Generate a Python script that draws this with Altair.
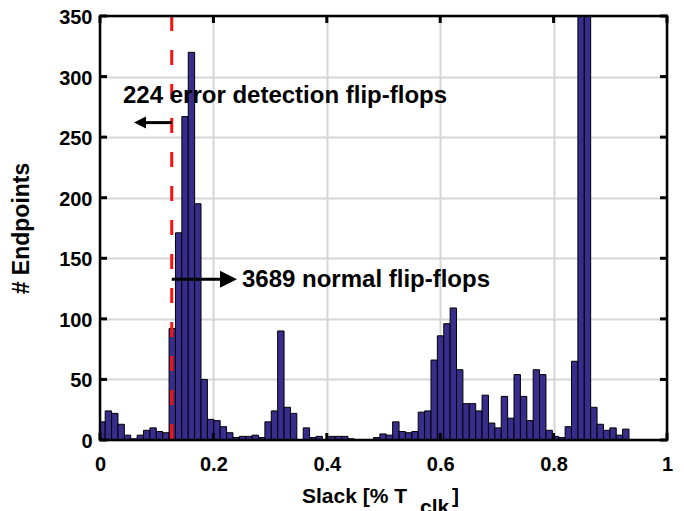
import altair as alt
import pandas as pd

# ---- data ----
counts = [15, 24, 22, 13, 4, 1, 4, 8, 10, 7, 6, 92,
          171, 267, 320, 195,
          50, 17, 16, 11, 6, 2, 3, 3, 4, 2, 15, 24, 90, 27, 22, 0, 10,
          2, 3, 0, 3, 3, 3, 1, 0, 0, 0, 2, 5, 4, 15, 7,
          6, 7, 23, 24, 66, 86, 96, 109, 58, 30, 30, 24, 37, 14, 10, 36, 18, 54,
          36, 16, 58, 54, 8, 3, 2, 11, 65,
          652, 700,
          27, 13, 8, 10, 4, 9]
BIN_START = -0.0021
BIN_WIDTH = 0.011266
threshold = 0.1265

x_ticks = [0, 0.2, 0.4, 0.6, 0.8, 1.0]
y_ticks = [0, 50, 100, 150, 200, 250, 300, 350]

ann_text = ["224 error detection flip-flops", "3689 normal flip-flops"]
ann_x = [0.0406, 0.2504]
ann_y = [278, 126]

arrow_y = [262, 132.7]
arrow_tip = [0.060, 0.2416]
arrow_base = [0.072, 0.226]

W, H = 567, 424
FONT = "Liberation Sans"
BAR = "#382C8C"

bins = pd.DataFrame({"lo": [BIN_START + i * BIN_WIDTH for i in range(len(counts))],
                     "count": counts})
bins["hi"] = bins["lo"] + BIN_WIDTH

xs = alt.Scale(domain=[0, 1], nice=False, zero=False)
ys = alt.Scale(domain=[0, 350], nice=False)

bars = alt.Chart(bins).mark_bar(fill=BAR, stroke="black", strokeWidth=1, clip=True).encode(
    x=alt.X("lo:Q", scale=xs, axis=alt.Axis(values=x_ticks, format="~g", title=None, grid=True,
                                            gridColor="#d6d6d6", gridWidth=2, ticks=False, tickSize=0,
                                            domain=False, labelFont=FONT, labelFontSize=20,
                                            labelFontWeight="bold", labelColor="black",
                                            labelPadding=14, labelFlush=False, labelOverlap=False)),
    x2="hi:Q",
    y=alt.Y("count:Q", scale=ys, axis=alt.Axis(values=y_ticks, title="# Endpoints", grid=True,
                                               gridColor="#d6d6d6", gridWidth=2, ticks=False, tickSize=0,
                                               domain=False, labelFont=FONT, labelFontSize=20,
                                               labelFontWeight="bold", labelColor="black",
                                               labelPadding=8, labelOverlap=False, labelOffset=1.5,
                                               titleFont=FONT, titleFontSize=23, titleFontWeight="bold",
                                               titleColor="black", titlePadding=25)),
    y2=alt.datum(0),
)

thr = pd.DataFrame({"t": [threshold]})
redline = alt.Chart(thr).mark_rule(color="#FF1010", strokeWidth=3, strokeDash=[15, 19]).encode(
    x=alt.X("t:Q", scale=xs, axis=None))

arr = pd.DataFrame({"x0": [threshold, threshold], "x1": arrow_base, "y": arrow_y,
                    "tip": arrow_tip,
                    "shape": ["M0,0L1,-0.5L1,0.5Z", "M0,0L-1,-0.5L-1,0.5Z"],
                    "sz": [576, 1156]})
shafts = alt.Chart(arr).mark_rule(color="black", strokeWidth=3).encode(
    x=alt.X("x0:Q", scale=xs, axis=None), x2="x1:Q",
    y=alt.Y("y:Q", scale=ys, axis=None))
heads = alt.Chart(arr).mark_point(filled=True, color="black", opacity=1, strokeWidth=0).encode(
    x=alt.X("tip:Q", scale=xs, axis=None),
    y=alt.Y("y:Q", scale=ys, axis=None),
    shape=alt.Shape("shape:N", scale=None),
    size=alt.Size("sz:Q", scale=None))

ann = pd.DataFrame({"x": ann_x, "y": ann_y, "text": ann_text})
texts = alt.Chart(ann).mark_text(align="left", baseline="alphabetic", font=FONT, fontSize=24,
                                 fontWeight="bold", color="black").encode(
    x=alt.X("x:Q", scale=xs, axis=None), y=alt.Y("y:Q", scale=ys, axis=None), text="text:N")

xt = pd.DataFrame({"v": x_ticks})
yt = pd.DataFrame({"v": y_ticks})
tick_x_bottom = alt.Chart(xt).mark_rule(color="black", strokeWidth=3).encode(
    x=alt.X("v:Q", scale=xs, axis=None), y=alt.value(H), y2=alt.value(H - 7))
tick_x_top = alt.Chart(xt).mark_rule(color="black", strokeWidth=3).encode(
    x=alt.X("v:Q", scale=xs, axis=None), y=alt.value(0), y2=alt.value(7))
tick_y_left = alt.Chart(yt).mark_rule(color="black", strokeWidth=3).encode(
    y=alt.Y("v:Q", scale=ys, axis=None), x=alt.value(0), x2=alt.value(7))
tick_y_right = alt.Chart(yt).mark_rule(color="black", strokeWidth=3).encode(
    y=alt.Y("v:Q", scale=ys, axis=None), x=alt.value(W), x2=alt.value(W - 7))

one = pd.DataFrame({"a": [0]})
frame = alt.Chart(one).mark_rect(filled=False, stroke="black", strokeWidth=2.5).encode(
    x=alt.value(0), x2=alt.value(W), y=alt.value(0), y2=alt.value(H))

t1 = alt.Chart(one).mark_text(align="right", baseline="alphabetic", font=FONT, fontSize=21,
                              fontWeight="bold", color="black", text="Slack [% T").encode(
    x=alt.value(307), y=alt.value(487))
t2 = alt.Chart(one).mark_text(align="left", baseline="alphabetic", font=FONT, fontSize=21,
                              fontWeight="bold", color="black", text="clk").encode(
    x=alt.value(320), y=alt.value(498))
t3 = alt.Chart(one).mark_text(align="left", baseline="alphabetic", font=FONT, fontSize=21,
                              fontWeight="bold", color="black", text="]").encode(
    x=alt.value(352), y=alt.value(487))

chart = alt.layer(bars, redline, shafts, heads, texts,
                  tick_x_bottom, tick_x_top, tick_y_left, tick_y_right, frame,
                  t1, t2, t3).properties(
    width=W, height=H, autosize="none",
    padding={"left": 92, "top": 8, "right": 8, "bottom": 76},
).resolve_axis(x="independent", y="independent").configure_view(stroke=None).configure(background="white")

chart.save("out.html", embed_options={"renderer": "svg", "actions": False})
